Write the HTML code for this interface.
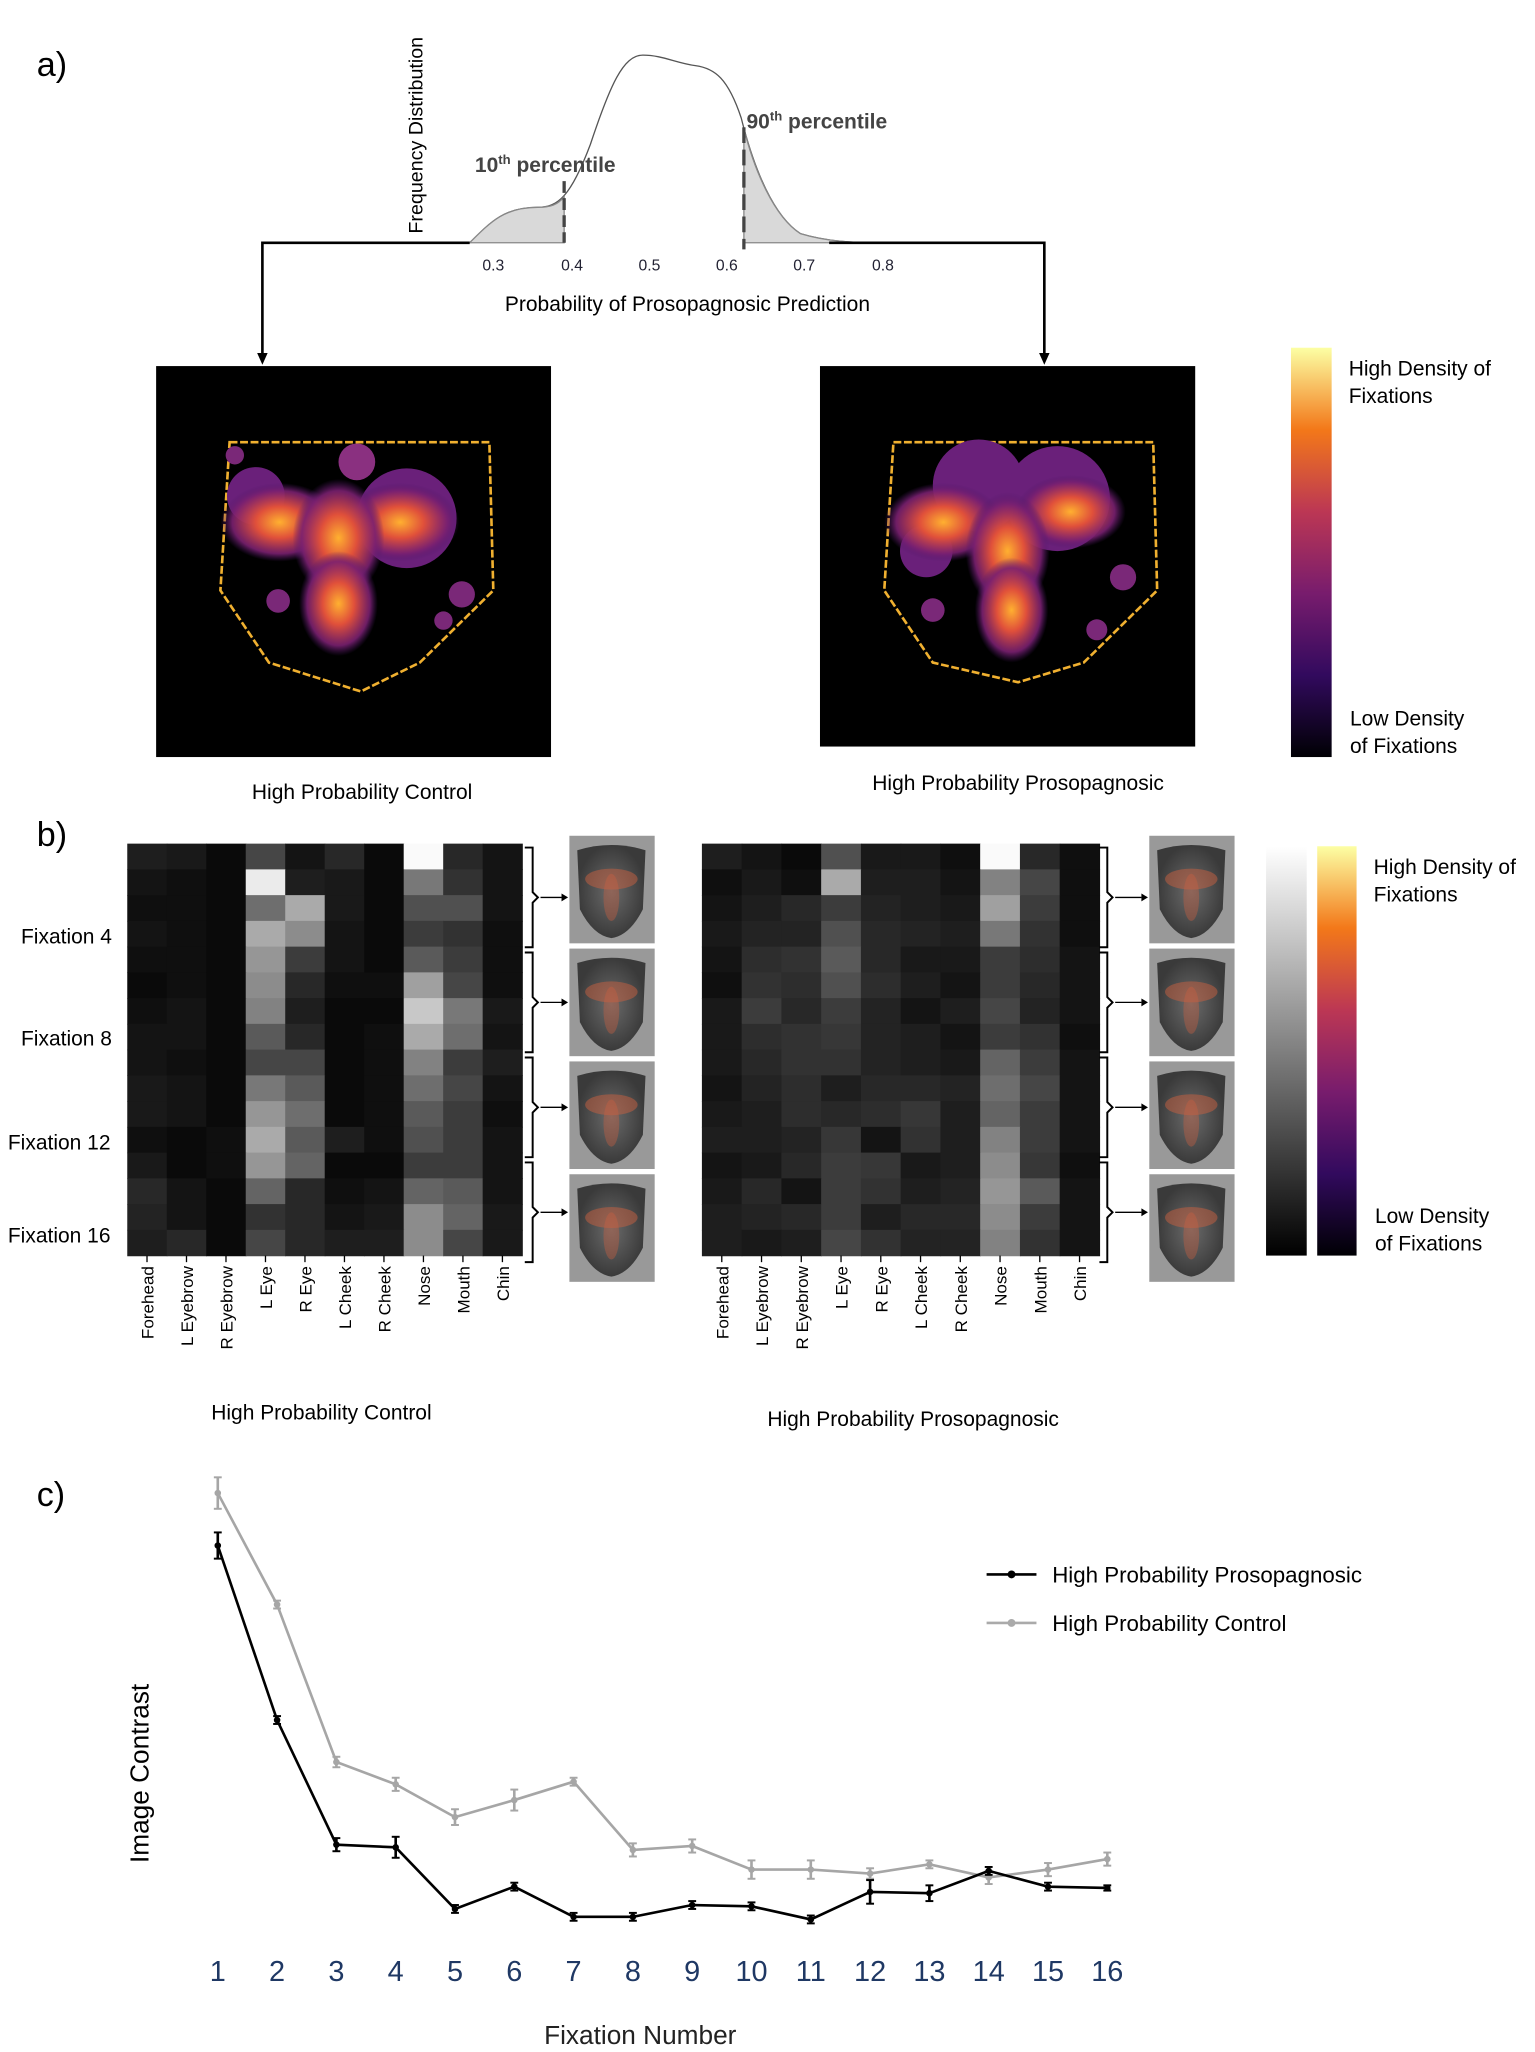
<!DOCTYPE html>
<html><head><meta charset="utf-8">
<style>html,body{margin:0;padding:0;background:#fff}svg{display:block}text{font-family:"Liberation Sans","DejaVu Sans",sans-serif}</style>
</head><body>
<svg id="s" width="1535" height="2052" viewBox="0 0 1170 1564" xmlns="http://www.w3.org/2000/svg">
<defs>
<linearGradient id="inf" x1="0" y1="1" x2="0" y2="0">
<stop offset="0" stop-color="#000004"/><stop offset="0.2" stop-color="#320a5e"/><stop offset="0.4" stop-color="#781c6d"/><stop offset="0.6" stop-color="#bc3754"/><stop offset="0.8" stop-color="#f37819"/><stop offset="1" stop-color="#fcffa4"/>
</linearGradient>
<linearGradient id="gr" x1="0" y1="1" x2="0" y2="0"><stop offset="0" stop-color="#000"/><stop offset="1" stop-color="#fff"/></linearGradient>
<radialGradient id="blob"><stop offset="0" stop-color="#ffb030"/><stop offset="0.4" stop-color="#e0503a"/><stop offset="0.8" stop-color="#7a2070" stop-opacity="0.9"/><stop offset="1" stop-color="#50186a" stop-opacity="0"/></radialGradient>
<radialGradient id="fc"><stop offset="0" stop-color="#6a6a6a"/><stop offset="1" stop-color="#3a3a3a"/></radialGradient>
</defs>
<text x="28" y="58" font-size="26">a)</text>
<text x="28" y="645" font-size="26">b)</text>
<text x="28" y="1148" font-size="26">c)</text>
<path d="M358,185 C375,168 385,158 410,158 C425,158 435,150 450,110 C465,65 475,42 490,42 C505,42 515,48 530,50 C545,52 555,60 565,90 C575,130 590,165 610,178 C630,184 650,185 670,185" fill="none" stroke="#555" stroke-width="1"/>
<path d="M358,185 C375,168 385,158 410,158 C420,158 425,156 430,150 L430,185 Z" fill="#d9d9d9" stroke="#888"/>
<path d="M567,98 C575,130 590,165 610,178 C630,184 650,185 670,185 L567,185 Z" fill="#d9d9d9" stroke="#888"/>
<line x1="430" y1="138" x2="430" y2="185" stroke="#444" stroke-width="2.5" stroke-dasharray="9,4"/>
<line x1="567" y1="97" x2="567" y2="190" stroke="#444" stroke-width="2.5" stroke-dasharray="12,5"/>
<text x="362" y="131" font-size="16" font-weight="bold" fill="#444">10<tspan font-size="10" dy="-6">th</tspan><tspan dy="6"> percentile</tspan></text>
<text x="569" y="98" font-size="16" font-weight="bold" fill="#444">90<tspan font-size="10" dy="-6">th</tspan><tspan dy="6"> percentile</tspan></text>
<text transform="translate(322,178) rotate(-90)" font-size="15">Frequency Distribution</text>
<g font-size="12" fill="#223" text-anchor="middle"><text x="376" y="206">0.3</text><text x="436" y="206">0.4</text><text x="495" y="206">0.5</text><text x="554" y="206">0.6</text><text x="613" y="206">0.7</text><text x="673" y="206">0.8</text></g>
<text x="524" y="237" font-size="16" text-anchor="middle">Probability of Prosopagnosic Prediction</text>
<polyline points="358,185 200,185 200,270" fill="none" stroke="#000" stroke-width="2"/>
<path d="M196,269 L204,269 L200,278 Z"/>
<polyline points="632,185 796,185 796,270" fill="none" stroke="#000" stroke-width="2"/>
<path d="M792,269 L800,269 L796,278 Z"/>
<rect x="119" y="279" width="301" height="298" fill="#000"/>
<rect x="625" y="279" width="286" height="290" fill="#000"/>
<g>
<polygon points="175,337 373,337 376,450 320,505 275,527 205,505 168,450" fill="none" stroke="#f0b030" stroke-width="2" stroke-dasharray="6,2"/>
<circle cx="195" cy="378" r="22" fill="#6a207a"/><circle cx="310" cy="395" r="38" fill="#6a207a"/><circle cx="272" cy="352" r="14" fill="#8a3080"/>
<ellipse cx="213" cy="398" rx="45" ry="30" fill="url(#blob)"/><ellipse cx="305" cy="398" rx="45" ry="30" fill="url(#blob)"/>
<ellipse cx="258" cy="410" rx="35" ry="45" fill="url(#blob)"/><ellipse cx="258" cy="460" rx="30" ry="40" fill="url(#blob)"/>
<circle cx="212" cy="458" r="9" fill="#7a2878"/><circle cx="352" cy="453" r="10" fill="#7a2878"/><circle cx="338" cy="473" r="7" fill="#7a2878"/><circle cx="179" cy="347" r="7" fill="#7a2878"/>
</g>
<g transform="translate(506,0)">
<polygon points="175,337 373,337 376,450 320,505 270,520 205,505 168,450" fill="none" stroke="#f0b030" stroke-width="2" stroke-dasharray="6,2"/>
<circle cx="240" cy="370" r="35" fill="#6a207a"/><circle cx="300" cy="380" r="40" fill="#6a207a"/><circle cx="200" cy="420" r="20" fill="#6a207a"/>
<ellipse cx="213" cy="398" rx="45" ry="30" fill="url(#blob)"/><ellipse cx="310" cy="390" rx="42" ry="28" fill="url(#blob)"/>
<ellipse cx="262" cy="420" rx="32" ry="45" fill="url(#blob)"/><ellipse cx="265" cy="465" rx="28" ry="40" fill="url(#blob)"/>
<circle cx="205" cy="465" r="9" fill="#7a2878"/><circle cx="350" cy="440" r="10" fill="#7a2878"/><circle cx="330" cy="480" r="8" fill="#7a2878"/>
</g>
<text x="276" y="609" font-size="16" text-anchor="middle">High Probability Control</text>
<text x="776" y="602" font-size="16" text-anchor="middle">High Probability Prosopagnosic</text>
<rect x="984" y="265" width="31" height="312" fill="url(#inf)"/>
<text x="1028" y="286" font-size="16">High Density of</text><text x="1028" y="307" font-size="16">Fixations</text>
<text x="1029" y="553" font-size="16">Low Density</text><text x="1029" y="574" font-size="16">of Fixations</text>
<g id="hm"></g>
<g font-size="16"><text x="16" y="719">Fixation 4</text><text x="16" y="797">Fixation 8</text><text x="6" y="876">Fixation 12</text><text x="6" y="947">Fixation 16</text></g>
<g id="lab" font-size="13"></g>
<text x="245" y="1082" font-size="16" text-anchor="middle">High Probability Control</text>
<text x="696" y="1087" font-size="16" text-anchor="middle">High Probability Prosopagnosic</text>
<rect x="965" y="645" width="31" height="312" fill="url(#gr)"/>
<rect x="1004" y="645" width="30" height="312" fill="url(#inf)"/>
<text x="1047" y="666" font-size="16">High Density of</text><text x="1047" y="687" font-size="16">Fixations</text>
<text x="1048" y="932" font-size="16">Low Density</text><text x="1048" y="953" font-size="16">of Fixations</text>
<text transform="translate(113,1420) rotate(-90)" font-size="20">Image Contrast</text>
<g id="ch"></g>
<text x="488" y="1558" font-size="20" text-anchor="middle" fill="#222">Fixation Number</text>
<line x1="752" y1="1200" x2="790" y2="1200" stroke="#000" stroke-width="2"/><circle cx="771" cy="1200" r="3"/>
<text x="802" y="1206" font-size="17">High Probability Prosopagnosic</text>
<line x1="752" y1="1237" x2="790" y2="1237" stroke="#aaa" stroke-width="2"/><circle cx="771" cy="1237" r="3" fill="#aaa"/>
<text x="802" y="1243" font-size="17">High Probability Control</text>
</svg>
<script>
var NS="http://www.w3.org/2000/svg",hm=document.getElementById('hm');
function el(p,t,a,txt){var e=document.createElementNS(NS,t);for(var k in a)e.setAttribute(k,a[k]);if(txt)e.textContent=txt;p.appendChild(e);return e;}
var L=[[30,25,10,70,20,40,10,250,40,20],[20,15,10,235,30,25,10,120,50,20],[15,15,10,110,170,25,10,80,80,20],[20,15,10,170,140,20,10,60,50,15],
[15,15,10,150,60,20,10,90,60,15],[10,15,10,140,40,15,15,160,70,15],[15,20,10,130,30,10,10,200,120,25],[20,20,10,90,40,10,15,170,110,20],
[20,15,10,70,70,10,15,130,60,30],[25,20,10,120,90,10,15,110,70,20],[25,20,10,150,110,10,15,90,60,15],[15,10,15,170,90,30,15,80,60,20],
[25,10,15,150,100,10,10,60,60,20],[40,20,10,100,40,15,20,100,90,20],[35,20,10,50,40,20,25,140,100,25],[30,40,10,70,40,30,30,140,70,25]];
var R=[[30,20,10,80,25,25,15,250,40,15],[15,25,15,170,30,30,20,130,70,15],[20,30,40,60,35,30,25,160,60,15],[25,35,35,80,40,35,30,120,50,15],
[20,45,50,90,40,25,25,60,45,20],[15,50,45,80,45,30,20,60,40,20],[25,60,40,60,35,20,30,70,35,20],[25,45,50,55,35,30,20,60,50,15],
[25,40,50,50,35,30,25,100,60,20],[20,35,45,30,40,40,35,110,70,20],[25,30,45,40,45,55,30,100,60,20],[30,30,35,55,20,50,30,130,60,20],
[20,25,40,60,55,25,30,140,55,15],[25,40,20,60,50,30,35,150,90,20],[30,35,40,60,30,40,40,140,60,20],[30,25,30,70,50,35,35,130,50,20]];
function grid(x0,w,D){var cw=w/10,rh=314/16;for(var r=0;r<16;r++)for(var c=0;c<10;c++){var v=D[r][c];el(hm,'rect',{x:x0+c*cw,y:643+r*rh,width:cw+0.5,height:rh+0.5,fill:'rgb('+v+','+v+','+v+')'});}}
grid(97,301,L);grid(535,303,R);
var names=["Forehead","L Eyebrow","R Eyebrow","L Eye","R Eye","L Cheek","R Cheek","Nose","Mouth","Chin"],lab=document.getElementById('lab');
[[97,30.1],[535,30.3]].forEach(function(g){for(var c=0;c<10;c++){var x=g[0]+c*g[1]+g[1]/2+5;el(lab,'text',{transform:'translate('+x+',965) rotate(-90)','text-anchor':'end'},names[c]);el(hm,'line',{x1:x-5,y1:957,x2:x-5,y2:962,stroke:'#000'});}});
[[400,434],[838,876]].forEach(function(g){for(var i=0;i<4;i++){var y=646+i*80;
el(hm,'path',{d:'M'+g[0]+','+y+' h6 v34 l4,4 l-4,4 v34 h-6',fill:'none',stroke:'#000','stroke-width':1.5});
el(hm,'line',{x1:g[0]+12,y1:y+38,x2:g[1]-6,y2:y+38,stroke:'#000'});el(hm,'path',{d:'M'+(g[1]-6)+','+(y+35)+' l5,3 l-5,3z'});
var fy=646+i*86;
el(hm,'rect',{x:g[1],y:fy-9,width:65,height:82,fill:'#999'});
el(hm,'path',{d:'M'+(g[1]+6)+','+(fy+2)+' q26,-8 52,0 l-2,45 q-10,20 -24,22 q-14,-2 -24,-22 z',fill:'url(#fc)'});
el(hm,'ellipse',{cx:g[1]+32,cy:fy+24,rx:20,ry:8,fill:'#c86040','fill-opacity':0.5});
el(hm,'ellipse',{cx:g[1]+32,cy:fy+38,rx:6,ry:18,fill:'#c86040','fill-opacity':0.4});}});
var ch=document.getElementById('ch');
var B=[1178,1311,1406,1408,1455,1438,1461,1461,1452,1453,1463,1442,1443,1426,1438,1439],G=[1138,1223,1343,1360,1385,1372,1358,1410,1407,1425,1425,1428,1421,1431,1425,1417];
var EB=[10,3,5,8,3,3,3,3,3,3,3,9,6,3,3,2],EG=[12,3,4,5,6,8,3,5,5,7,7,4,3,5,5,5];
function ser(D,E,col){var p=[];for(var i=0;i<16;i++){var x=166+i*45.2;p.push(x+','+D[i]);el(ch,'line',{x1:x,y1:D[i]-E[i],x2:x,y2:D[i]+E[i],stroke:col,'stroke-width':2});el(ch,'line',{x1:x-3,y1:D[i]-E[i],x2:x+3,y2:D[i]-E[i],stroke:col,'stroke-width':1.5});el(ch,'line',{x1:x-3,y1:D[i]+E[i],x2:x+3,y2:D[i]+E[i],stroke:col,'stroke-width':1.5});el(ch,'circle',{cx:x,cy:D[i],r:2.5,fill:col});}
el(ch,'polyline',{points:p.join(' '),fill:'none',stroke:col,'stroke-width':2});}
ser(G,EG,'#a6a6a6');ser(B,EB,'#000');
for(var i=0;i<16;i++)el(ch,'text',{x:166+i*45.2,y:1510,'font-size':22,'text-anchor':'middle',fill:'#1f3864'},String(i+1));
</script>
</body></html>
